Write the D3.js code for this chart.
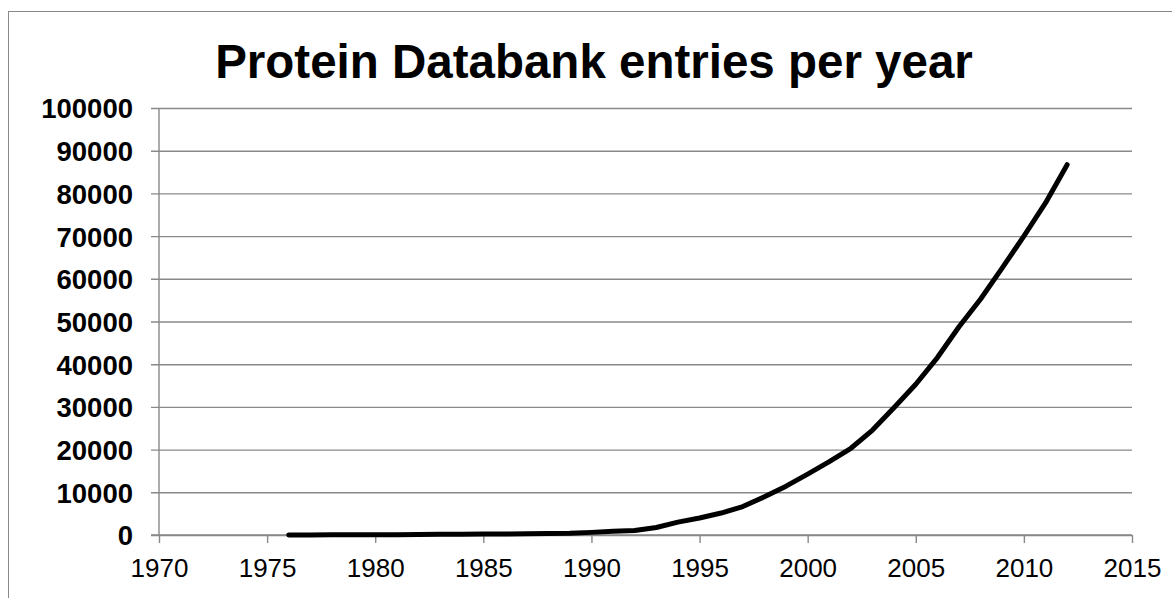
<!DOCTYPE html>
<html>
<head>
<meta charset="utf-8">
<script src="https://cdn.jsdelivr.net/npm/d3@7/dist/d3.min.js"></script>
<style>
  html, body { margin: 0; padding: 0; background: #fff; }
  svg { display: block; }
  text { font-family: "Liberation Sans", Arial, sans-serif; fill: #000; }
</style>
</head>
<body>
<svg id="chart" width="1172" height="598"></svg>
<script>
const titleText = "Protein Databank entries per year";
const years = [1976,1977,1978,1979,1980,1981,1982,1983,1984,1985,1986,1987,1988,1989,1990,1991,1992,1993,1994,1995,1996,1997,1998,1999,2000,2001,2002,2003,2004,2005,2006,2007,2008,2009,2010,2011,2012];
const entries = [13,23,36,62,69,79,122,155,192,223,246,290,343,423,615,853,1076,1766,3010,3979,5138,6654,8941,11433,14242,17168,20312,24567,29879,35307,41557,48760,55269,62550,70002,77761,86727];
const xTicks = [1970,1975,1980,1985,1990,1995,2000,2005,2010,2015];
const yTicks = [0,10000,20000,30000,40000,50000,60000,70000,80000,90000,100000];

(function () {
const svg = d3.select("#chart");
const pL = 159, pR = 1132, pT = 108, pB = 535;
const x = d3.scaleLinear().domain([1970, 2015]).range([pL, pR]);
const y = d3.scaleLinear().domain([0, 100000]).range([pB, pT]);
const grey = "#898989";

// outer chart border (extends past the viewport on right/bottom)
svg.append("rect")
  .attr("x", 8.5).attr("y", 11.5)
  .attr("width", 1200).attr("height", 700)
  .attr("fill", "none").attr("stroke", grey).attr("stroke-width", 1);

// title
svg.append("text")
  .attr("x", 594).attr("y", 78)
  .attr("text-anchor", "middle")
  .style("font-size", "47.5px").style("font-weight", "bold")
  .text(titleText);

// Y axis with gridlines
const yAxis = svg.append("g")
  .attr("transform", `translate(${pL},0)`)
  .call(d3.axisLeft(y).tickValues(yTicks).tickFormat(d3.format("d")).tickSizeOuter(0));
yAxis.select(".domain").remove();
yAxis.selectAll(".tick line")
  .attr("x1", -8).attr("x2", pR - pL)
  .attr("stroke", grey).attr("stroke-width", 1.4);
yAxis.selectAll(".tick text")
  .attr("x", -26).attr("dy", "0.36em")
  .style("font-size", "27.5px").style("font-weight", "bold")
  .style("font-family", "'Liberation Sans', Arial, sans-serif");

// vertical axis line
svg.append("line")
  .attr("x1", pL).attr("x2", pL).attr("y1", pT).attr("y2", pB)
  .attr("stroke", grey).attr("stroke-width", 1.4);

// X axis
const xAxis = svg.append("g")
  .attr("transform", `translate(0,${pB})`)
  .call(d3.axisBottom(x).tickValues(xTicks).tickFormat(d3.format("d")).tickSize(8).tickSizeOuter(0));
xAxis.select(".domain").attr("stroke", grey).attr("stroke-width", 1.4)
  .attr("d", `M${pL - 8},0H${pR}`);
xAxis.selectAll(".tick line").attr("stroke", grey).attr("stroke-width", 1.4);
xAxis.selectAll(".tick text")
  .attr("y", 0).attr("dy", "42px")
  .style("font-size", "26px")
  .style("font-family", "'Liberation Sans', Arial, sans-serif");

// data line
const data = years.map((yr, i) => ({ yr, v: entries[i] }));
svg.append("path")
  .datum(data)
  .attr("fill", "none")
  .attr("stroke", "#000")
  .attr("stroke-width", 5)
  .attr("stroke-linecap", "round")
  .attr("stroke-linejoin", "round")
  .attr("d", d3.line().x(d => x(d.yr)).y(d => y(d.v)));
})();
</script>
</body>
</html>
